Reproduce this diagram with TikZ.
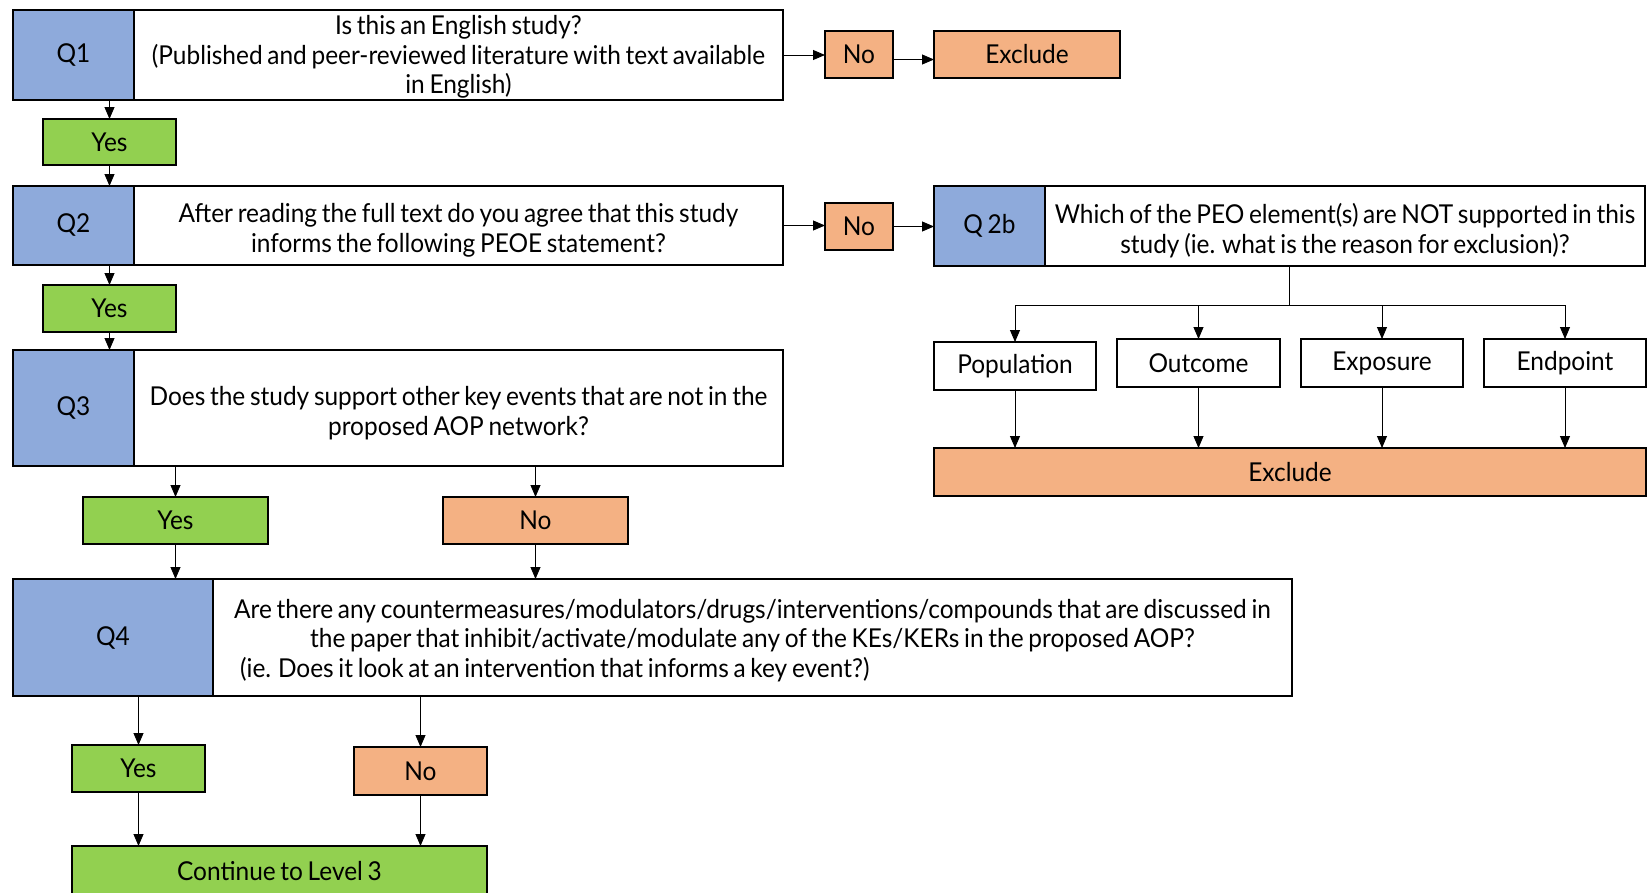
\documentclass[tikz,border=0pt]{standalone}
\usepackage{fontspec}
\setmainfont{Lato}[FakeStretch=0.94,WordSpace=0.75]
\usetikzlibrary{arrows.meta}
\definecolor{qblue}{HTML}{8EAADB}
\definecolor{ygreen}{HTML}{92D050}
\definecolor{norange}{HTML}{F4B183}
\newcommand\dnstrut{\rule{0pt}{29pt}}
\begin{document}
\begin{tikzpicture}[x=1pt,y=-1pt,
  every node/.style={inner sep=0pt,outer sep=0pt,font=\fontsize{26}{29.5}\selectfont},
  qlab/.style={draw,line width=2.2pt,fill=qblue},
  qtxt/.style={draw,line width=2.2pt,fill=white,align=center},
  yesbox/.style={draw,line width=1.4pt,fill=ygreen},
  nobox/.style={draw,line width=1.4pt,fill=norange},
  whbox/.style={draw,line width=1.4pt,fill=white},
  arr/.style={line width=0.9pt,-{Triangle[length=12pt,width=10pt]}},
  ln/.style={line width=0.9pt}]
\useasboundingbox (0,0) rectangle (1650,892);
\fill[white] (0,0) rectangle (1650,892);
% Q1
\node[qlab,minimum width=121pt,minimum height=90pt] (q1l) at (73.5,55) {Q1};
\node[qtxt,minimum width=649pt,minimum height=90pt] (q1t) at (458.5,55) {\rule{0pt}{23pt}Is this an English study?\\(Published and peer-reviewed literature with text available\\in English)};
\node[nobox,minimum width=68pt,minimum height=47pt] (no1) at (859,54.5) {No};
\node[nobox,minimum width=186pt,minimum height=47pt] (ex1) at (1027,54.5) {Exclude};
\node[yesbox,minimum width=133pt,minimum height=46pt] (yes1) at (109.5,142) {Yes};
% Q2
\node[qlab,minimum width=121pt,minimum height=79pt] (q2l) at (73.5,225.5) {Q2};
\node[qtxt,minimum width=649pt,minimum height=79pt] (q2t) at (458.5,225.5) {\dnstrut After reading the full text do you agree that this study\\informs the following PEOE statement?};
\node[nobox,minimum width=68pt,minimum height=47pt] (no2) at (859,226.5) {No};
\node[qlab,minimum width=111pt,minimum height=80pt] (q2bl) at (989.5,226) {Q 2b};
\node[qtxt,minimum width=600pt,minimum height=80pt] (q2bt) at (1345,226) {\dnstrut Which of the PEO element(s) are NOT supported in this\\study (ie. what is the reason for exclusion)?};
\node[yesbox,minimum width=133pt,minimum height=47pt] (yes2) at (109.5,308.5) {Yes};
% Q2b branches
\node[whbox,minimum width=162pt,minimum height=48pt] (pop) at (1015,366) {Population};
\node[whbox,minimum width=163pt,minimum height=48pt] (out) at (1198.5,363) {Outcome};
\node[whbox,minimum width=162pt,minimum height=48pt] (exp) at (1382,363) {Exposure};
\node[whbox,minimum width=162pt,minimum height=48pt] (endp) at (1565,363) {Endpoint};
\node[nobox,minimum width=712pt,minimum height=48pt] (ex2) at (1290,472) {Exclude};
% Q3
\node[qlab,minimum width=121pt,minimum height=116pt] (q3l) at (73.5,408) {Q3};
\node[qtxt,minimum width=649pt,minimum height=116pt] (q3t) at (458.5,408) {\dnstrut Does the study support other key events that are not in the\\proposed AOP network?};
\node[yesbox,minimum width=185pt,minimum height=47pt] (yes3) at (175.5,520.5) {Yes};
\node[nobox,minimum width=185pt,minimum height=47pt] (no3) at (535.5,520.5) {No};
% Q4
\node[qlab,minimum width=200pt,minimum height=117pt] (q4l) at (113,637.5) {Q4};
\node[qtxt,minimum width=1079pt,minimum height=117pt] (q4t) at (752.5,637.5) {\begin{tabular}{@{}c@{}}\dnstrut Are there any countermeasures/modulators/drugs/interventions/compounds that are discussed in\\the paper that inhibit/activate/modulate any of the KEs/KERs in the proposed AOP?\\\multicolumn{1}{@{}l@{}}{\hspace{6pt}(ie. Does it look at an intervention that informs a key event?)}\end{tabular}};
\node[yesbox,minimum width=133pt,minimum height=47pt] (yes4) at (138.5,768.5) {Yes};
\node[nobox,minimum width=133pt,minimum height=48pt] (no4) at (420.5,771) {No};
\node[yesbox,minimum width=415pt,minimum height=50pt] (cont) at (279.5,871) {Continue to Level 3};
% connectors
\draw[arr] (q1t.east) -- (q1t.east -| no1.west);
\draw[arr] (no1.east) ++(0,5) coordinate (n1e) -- (n1e -| ex1.west);
\draw[arr] (q1l.south -| yes1) -- (yes1.north);
\draw[arr] (yes1.south) -- (yes1.south |- q2l.north);
\draw[arr] (q2t.east) -- (q2t.east -| no2.west);
\draw[arr] (no2.east) -- (no2.east -| q2bl.west);
\draw[arr] (q2l.south -| yes2) -- (yes2.north);
\draw[arr] (yes2.south) -- (yes2.south |- q3l.north);
\coordinate (br) at (1289,305);
\draw[ln] (q2bt.south -| br) -- (br);
\draw[arr] (br) -| (pop.north);
\draw[arr] (br) -| (out.north);
\draw[arr] (br) -| (exp.north);
\draw[arr] (br) -| (endp.north);
\draw[arr] (pop.south) -- (pop.south |- ex2.north);
\draw[arr] (out.south) -- (out.south |- ex2.north);
\draw[arr] (exp.south) -- (exp.south |- ex2.north);
\draw[arr] (endp.south) -- (endp.south |- ex2.north);
\draw[arr] (q3t.south -| yes3) -- (yes3.north);
\draw[arr] (q3t.south -| no3) -- (no3.north);
\draw[arr] (yes3.south) -- (yes3.south |- q4l.north);
\draw[arr] (no3.south) -- (no3.south |- q4t.north);
\draw[arr] (q4l.south -| yes4) -- (yes4.north);
\draw[arr] (q4t.south -| no4) -- (no4.north);
\draw[arr] (yes4.south) -- (yes4.south |- cont.north);
\draw[arr] (no4.south) -- (no4.south |- cont.north);
\end{tikzpicture}
\end{document}
